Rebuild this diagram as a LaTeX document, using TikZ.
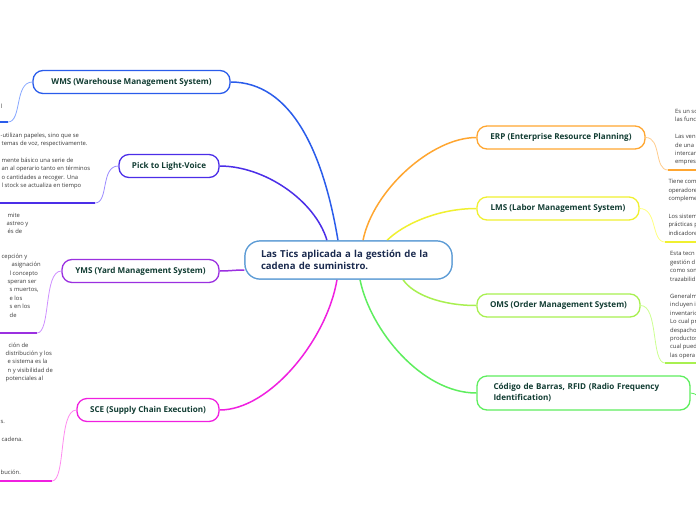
\documentclass[tikz,border=0pt]{standalone}
\usepackage{fontspec}
\setmainfont{Open Sans}
\definecolor{maintext}{HTML}{123D33}
\definecolor{ctrtext}{HTML}{1B2B4F}
\definecolor{notetext}{HTML}{3A3A3A}
\definecolor{cctr}{HTML}{5B9BD5}
\definecolor{cwms}{HTML}{2A5CEB}
\definecolor{cwmsl}{HTML}{88A8FF}
\definecolor{cpick}{HTML}{4B2EE8}
\definecolor{cpickl}{HTML}{9C8CFF}
\definecolor{cyms}{HTML}{9B30E0}
\definecolor{cymsl}{HTML}{CF90FF}
\definecolor{csce}{HTML}{F020E0}
\definecolor{cscel}{HTML}{FF8CF0}
\definecolor{cerp}{HTML}{FFA630}
\definecolor{cerpl}{HTML}{FFCC8C}
\definecolor{clms}{HTML}{F0F030}
\definecolor{clmsl}{HTML}{FFFF80}
\definecolor{coms}{HTML}{A8F050}
\definecolor{comsl}{HTML}{CCFF90}
\definecolor{ccod}{HTML}{5EEE5E}
\tikzset{
  mainbox/.style={draw, fill=white, rounded corners=10pt, line width=1.3pt,
    font=\bfseries\fontsize{8.1}{9}\selectfont, text=maintext, inner sep=0pt,
    align=center, minimum height=23pt},
  ctrbox/.style={draw=cctr, fill=white, rounded corners=15pt, line width=1.2pt, minimum width=207pt,
    minimum height=38pt, text width=175pt, inner xsep=16pt, inner ysep=0pt, align=left,
    font=\bfseries\fontsize{9.6}{12.5}\selectfont, text=ctrtext},
  notebox/.style={font=\fontsize{5.85}{8.4}\selectfont, text=notetext, align=left,
    inner sep=0pt, anchor=north west},
  branch/.style={line width=1.5pt},
  subline/.style={line width=0.8pt},
  uline/.style={line width=1.7pt},
}
\begin{document}
\begin{tikzpicture}[x=1pt,y=-1pt]
\useasboundingbox (0,0) rectangle (696,520);
\clip (0,0) rectangle (696,520);
\fill[white] (0,0) rectangle (696,520);

% main nodes
\node[ctrbox] (ctr) at (348.5,260) {Las Tics aplicada a la gestión de la\\cadena de suministro.};
\node[mainbox, draw=cwms, minimum width=197pt] (wms) at (131.5,82) {WMS (Warehouse Management System)};
\node[mainbox, draw=cpick, minimum width=100pt] (pick) at (169,166) {Pick to Light-Voice};
\node[mainbox, draw=cyms, minimum width=157pt] (yms) at (140.5,271) {YMS (Yard Management System)};
\node[mainbox, draw=csce, minimum width=142pt] (sce) at (148,410) {SCE (Supply Chain Execution)};
\node[mainbox, draw=cerp, minimum width=168pt] (erp) at (561,137.5) {ERP (Enterprise Resource Planning)};
\node[mainbox, draw=clms, minimum width=162pt] (lms) at (558,208.5) {LMS (Labor Management System)};
\node[mainbox, draw=coms, minimum width=163pt] (oms) at (558.5,305.5) {OMS (Order Management System)};
\node[mainbox, draw=ccod, minimum width=213pt, minimum height=34pt, text width=180pt,
  inner xsep=16.5pt, align=left, font=\bfseries\fontsize{8.1}{11}\selectfont] (cod) at (583.5,393)
  {Código de Barras, RFID (Radio Frequency\\Identification)};

% branches to the centre
\draw[branch, draw=cwms] (wms.east) .. controls +(60,0) and +(-15,-90) .. ([xshift=-10.5pt]ctr.north);
\draw[branch, draw=cpick] (pick.east) .. controls +(45,0) and +(-12,-40) .. ([xshift=-21.5pt]ctr.north);
\draw[branch, draw=cyms] (yms.east) .. controls +(10,0) and +(-10,0) .. ([yshift=-10pt]ctr.west);
\draw[branch, draw=csce] (sce.east) .. controls +(50,0) and +(-10,60) .. ([xshift=-11.5pt]ctr.south);
\draw[branch, draw=cerp] (erp.west) .. controls +(-45,0) and +(10,-50) .. ([xshift=14.5pt]ctr.north);
\draw[branch, draw=clms] (lms.west) .. controls +(-40,0) and +(15,-15) .. ([xshift=38.5pt]ctr.north);
\draw[branch, draw=coms] (oms.west) .. controls +(-35,0) and +(10,15) .. ([xshift=54.5pt]ctr.south);
\draw[branch, draw=ccod] (cod.west) .. controls +(-55,0) and +(10,50) .. ([xshift=11.5pt]ctr.south);

% centre box redrawn above the branch ends
\node[ctrbox] (ctrtop) at (ctr) {Las Tics aplicada a la gestión de la\\cadena de suministro.};

% underline end points
\coordinate (wmsu) at (8,122);   \coordinate (wmsv) at (-5,122);
\coordinate (picku) at (95,203); \coordinate (pickv) at (-5,203);
\coordinate (ymsu) at (37,333);  \coordinate (ymsv) at (-5,333);
\coordinate (sceu) at (52,481);  \coordinate (scev) at (-5,481);
\coordinate (erpu) at (668,170); \coordinate (erpv) at (705,170);
\coordinate (lmsu) at (665,242); \coordinate (lmsv) at (705,242);
\coordinate (omsu) at (665,363); \coordinate (omsv) at (705,363);
\coordinate (codu) at (702,398);

% sub connectors
\draw[subline, draw=cwmsl] (wms.west) .. controls +(-18,0) and +(14,0) .. (wmsu);
\draw[uline, draw=cwms] (wmsu) -- (wmsv);
\draw[subline, draw=cpickl] (pick.west) .. controls +(-18,0) and +(14,0) .. (picku);
\draw[uline, draw=cpick] (picku) -- (pickv);
\draw[subline, draw=cymsl] (yms.west) .. controls +(-18,0) and +(14,0) .. (ymsu);
\draw[uline, draw=cyms] (ymsu) -- (ymsv);
\draw[subline, draw=cscel] (sce.west) .. controls +(-18,0) and +(14,0) .. (sceu);
\draw[uline, draw=csce] (sceu) -- (scev);
\draw[subline, draw=cerpl] (erp.east) .. controls +(16,0) and +(-14,0) .. (erpu);
\draw[uline, draw=cerp] (erpu) -- (erpv);
\draw[subline, draw=clmsl] (lms.east) .. controls +(18,0) and +(-14,0) .. (lmsu);
\draw[uline, draw=clms] (lmsu) -- (lmsv);
\draw[subline, draw=comsl] (oms.east) .. controls +(18,0) and +(-14,0) .. (omsu);
\draw[uline, draw=coms] (omsu) -- (omsv);
\draw[subline, draw=ccod] (cod.east) .. controls +(6,0) and +(-4,0) .. (codu);

% notes (left, clipped by the picture edge)
\node[notebox] (wmsn) at (0.5,103.5) {l};
\node[notebox] (pickn) at (0.5,132.5) {%
-utilizan papeles, sino que se\\
\hspace*{1pt}temas de voz, respectivamente.\\[8.4pt]
\hspace*{1pt}mente básico una serie de\\
\hspace*{1pt}an al operario tanto en términos\\
\hspace*{1pt}o cantidades a recoger. Una\\
\hspace*{1pt}l stock se actualiza en tiempo};
\node[notebox] (ymsn) at (0.5,212.5) {%
\hspace*{7pt}mite\\
\hspace*{6pt}astreo y\\
\hspace*{7pt}és de\\[16pt]
\hspace*{1pt}cepción y\\
\hspace*{11pt}asignación\\
\hspace*{9pt}l concepto\\
\hspace*{7pt}speran ser\\
\hspace*{9pt}s muertos,\\
\hspace*{9pt}e los\\
\hspace*{9pt}s en los\\
\hspace*{9pt}de};
\node[notebox] (scen) at (0.5,342.5) {%
\hspace*{8pt}ción de\\
\hspace*{5pt}distribución y los\\
\hspace*{7pt}e sistema es la\\
\hspace*{7pt}n y visibilidad de\\
\hspace*{5pt}potenciales al\\[34.6pt]
s.\\[8.9pt]
\hspace*{1pt}cadena.\\[24.9pt]
bución.};

% notes (right)
\node[notebox] (erpn) at (675,109.2) {%
Es un so\\
las func\\[8.4pt]
Las ven\\
de una r\\
intercan\\
empres};
\node[notebox] (lmsn) at (668.3,179.2) {%
Tiene com\\
operadore\\
compleme\\[9.6pt]
Los sistem\\
prácticas p\\
indicadore};
\node[notebox] (omsn) at (670,251.5) {%
Esta tecn\\
gestión d\\
como son\\
trazabilid\\[9pt]
Generalm\\
incluyen i\\
inventario\\
Lo cual pr\\
despacho\\
productos\\
cual pued\\
las opera};
\end{tikzpicture}
\end{document}
